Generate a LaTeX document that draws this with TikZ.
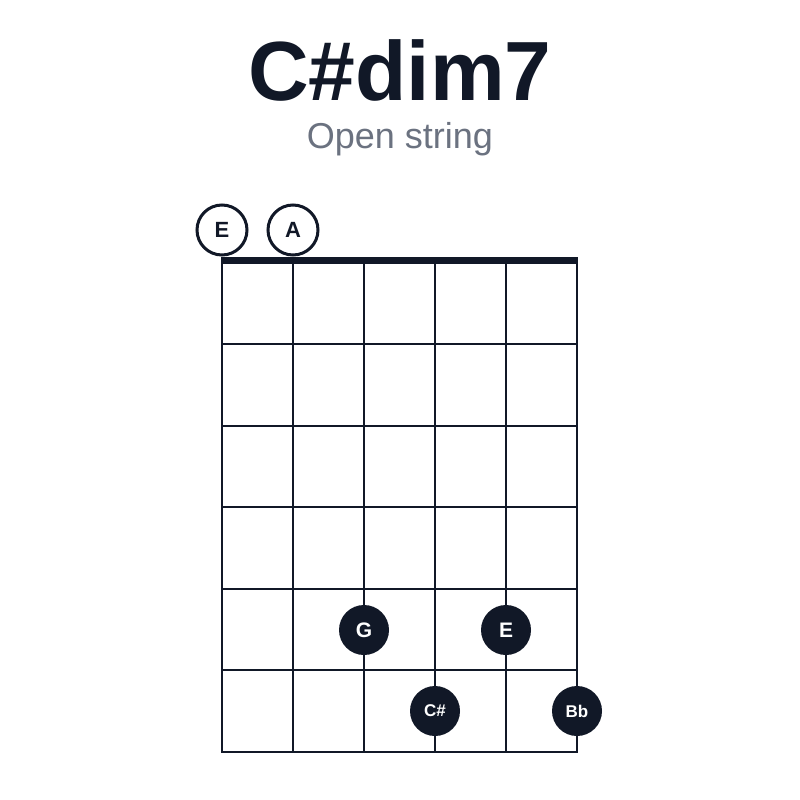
\documentclass[tikz,border=0pt]{standalone}
\usepackage{fontspec}
\setmainfont{Liberation Sans}
\definecolor{ink}{HTML}{111827}
\definecolor{subgray}{HTML}{6B7280}
\begin{document}
\begin{tikzpicture}[x=1pt,y=-1pt,
  gridline/.style={draw=ink,line width=2pt},
  nutline/.style={draw=ink,line width=7pt},
  opendot/.style={circle,draw=ink,line width=3pt,fill=white,minimum size=50pt,inner sep=0pt,text=ink,font=\fontsize{22}{24}\selectfont\bfseries},
  fingerdot/.style={circle,fill=ink,minimum size=50pt,inner sep=0pt,text=white,font=\fontsize{21}{24}\selectfont\bfseries},
  smalldot/.style={fingerdot,font=\fontsize{17}{20}\selectfont\bfseries}]
\useasboundingbox[fill=white] (0,0) rectangle (800,800);
\node[anchor=base,text=ink,font=\fontsize{84}{90}\selectfont\bfseries] (title) at (400,100) {C\#dim7};
\node[anchor=base,text=subgray,font=\fontsize{36}{40}\selectfont] (subtitle) at (400,148) {Open string};
% strings
\foreach \i/\x in {1/222,2/293,3/364,4/435,5/506,6/577}{
  \coordinate (s\i top) at (\x,261);
  \coordinate (s\i bot) at (\x,752);
  \draw[gridline] (s\i top) -- (s\i bot);
}
% frets
\foreach \j/\y in {1/344,2/426,3/507,4/589,5/670,6/752}{
  \coordinate (f\j l) at (221,\y);
  \coordinate (f\j r) at (578,\y);
  \draw[gridline] (f\j l) -- (f\j r);
}
\coordinate (nutl) at (221,260.5);
\coordinate (nutr) at (578,260.5);
\draw[nutline] (nutl) -- (nutr);
% open strings
\node[opendot] (openE) at (222,230) {E};
\node[opendot] (openA) at (293,230) {A};
% fingered notes
\node[fingerdot] (noteG) at (364,630) {G};
\node[fingerdot] (noteE) at (506,630) {E};
\node[smalldot] (noteCs) at (435,711) {C\#};
\node[smalldot] (noteBb) at (577,711) {Bb};
\end{tikzpicture}
\end{document}
